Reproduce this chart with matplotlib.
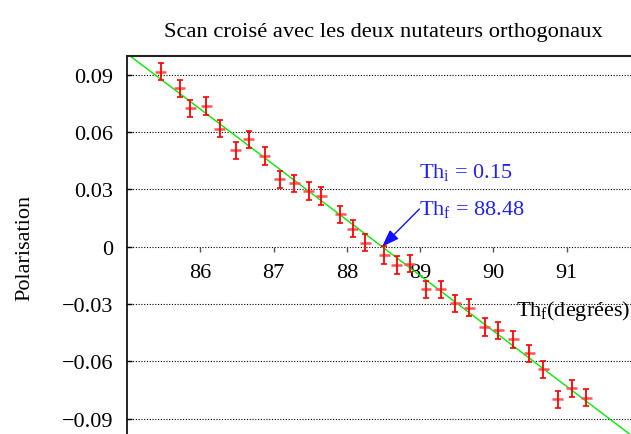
import matplotlib
matplotlib.use("Agg")
import matplotlib.pyplot as plt

plt.rcParams['font.family'] = ['Liberation Serif', 'DejaVu Serif']
plt.rcParams['mathtext.fontset'] = 'custom'
plt.rcParams['mathtext.rm'] = 'Liberation Serif'
plt.rcParams['mathtext.it'] = 'Liberation Serif:italic'
plt.rcParams['font.size'] = 16

# measured points: angle (deg) and polarisation
theta = [85.46, 85.72, 85.86, 86.08, 86.26, 86.48, 86.66, 86.88, 87.08, 87.28,
         87.48, 87.65, 87.91, 88.08, 88.25, 88.51, 88.68, 88.86, 89.08, 89.28,
         89.48, 89.67, 89.88, 90.07, 90.27, 90.49, 90.68, 90.88, 91.07, 91.27]
polar = [0.0916, 0.0829, 0.0724, 0.0736, 0.0617, 0.0504, 0.0562, 0.0475, 0.0353, 0.0332,
         0.0291, 0.0265, 0.0170, 0.0094, 0.0021, -0.0043, -0.0096, -0.0089, -0.0223, -0.0223,
         -0.0296, -0.0319, -0.0420, -0.0437, -0.0485, -0.0558, -0.0642, -0.0799, -0.0741, -0.0790]
polar_err = [0.0045] * len(theta)
theta_err = [0.075] * len(theta)

# fit result
th_i = 0.15
th_f = 88.48
fit_slope = -0.029

xticks = [86, 87, 88, 89, 90, 91]
yticks = [0.09, 0.06, 0.03, 0, -0.03, -0.06, -0.09]
ytick_labels = ['0.09', '0.06', '0.03', '0', '\u22120.03', '\u22120.06', '\u22120.09']

fig = plt.figure(figsize=(6.31, 4.35), dpi=100)
ax = fig.add_axes([0.2017, -0.0087, 0.7983, 0.8786])
ax.set_xlim(85, 91.88)
ax.set_ylim(-0.1, 0.1)

for y in yticks:
    ax.axhline(y, color='black', lw=0.8, ls=(0, (1, 1.5)), zorder=1)

ax.axline((th_f, 0), slope=fit_slope, color='#00ee00', lw=1, zorder=2)

ax.errorbar(theta, polar, xerr=theta_err, fmt='none', ecolor='#ff5555',
            elinewidth=1.8, capsize=0, zorder=3)
ax.errorbar(theta, polar, yerr=polar_err, fmt='none', ecolor='red',
            elinewidth=1.3, capsize=2.5, capthick=1.2, zorder=4)

ax.spines['right'].set_visible(False)
ax.spines['bottom'].set_position(('data', 0))
ax.spines['bottom'].set_visible(False)
ax.spines['left'].set_linewidth(1.2)
ax.spines['top'].set_linewidth(1.5)
ax.spines['top'].set_color('#222222')

ax.set_xticks(xticks)
ax.set_yticks(yticks)
ax.set_yticklabels(ytick_labels)
ax.tick_params(axis='x', direction='out', length=3.6, width=1, color='#555555', pad=8)
ax.tick_params(axis='y', direction='in', length=3.6, width=1, pad=10)

ax.set_title('Scan crois\u00e9 avec les deux nutateurs orthogonaux', fontsize=16.2,
             pad=14, x=0.508)
ax.set_ylabel('Polarisation', labelpad=20)
ax.set_xlabel('Th$_{\\mathrm{f}}$(degr\u00e9es)', ha='right', va='baseline')
ax.xaxis.set_label_coords(0.998, 0.32)

ax.text(88.99, 0.0365, 'Th$_{\\mathrm{i}}$ = %.2f' % th_i, color='#2020ff', va='baseline')
ax.text(88.99, 0.017, 'Th$_{\\mathrm{f}}$ = %.2f' % th_f, color='#2020ff', va='baseline')
ax.annotate('', xy=(th_f, 0), xytext=(88.99, 0.0197),
            arrowprops=dict(arrowstyle='-|>,head_length=0.7,head_width=0.25',
                            color='#1010ff', lw=1, mutation_scale=15,
                            shrinkA=0, shrinkB=0))

fig.savefig('out.png', dpi=100)
